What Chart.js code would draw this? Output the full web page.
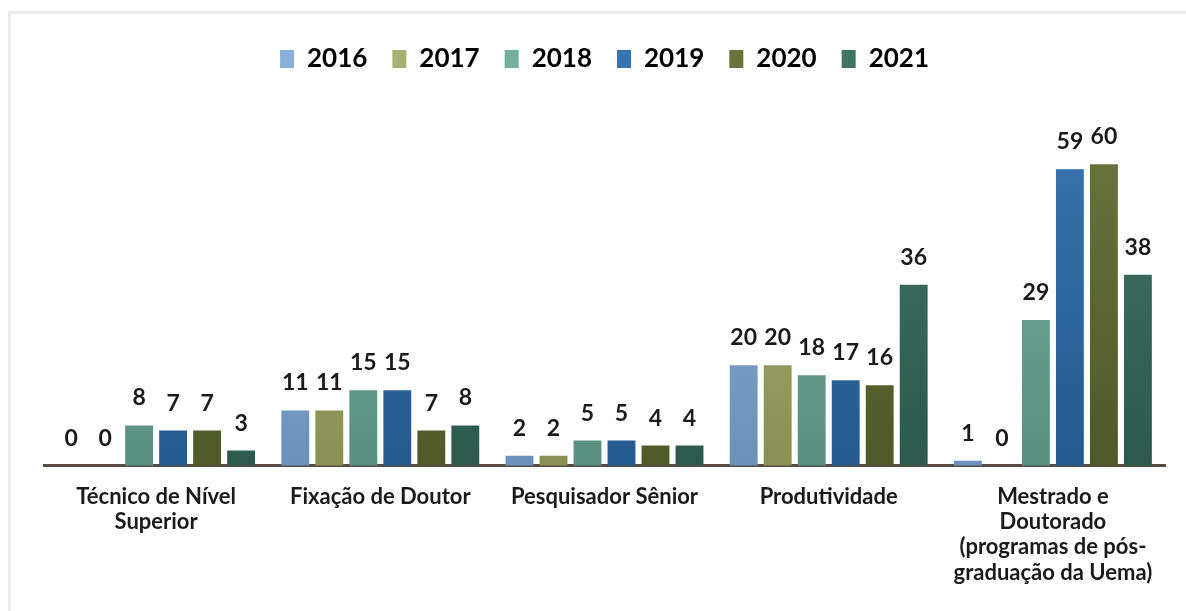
<!DOCTYPE html>
<html>
<head>
<meta charset="utf-8">
<script src="https://cdn.jsdelivr.net/npm/chart.js@4"></script>
<style>
  html, body { margin: 0; padding: 0; background: #fff; }
  #wrap { position: relative; width: 1186px; height: 611px; }
  #frame { position: absolute; left: 8px; top: 11px; right: 0; bottom: 0;
           border-top: 3px solid #ebebeb; border-left: 3px solid #ebebeb; }
  canvas { position: absolute; left: 0; top: 0; }
</style>
</head>
<body>
<div id="wrap">
  <div id="frame"></div>
  <canvas id="chart" width="1186" height="611"></canvas>
</div>
<script>
// categorias e valores por ano
const categories = [
  ['Técnico de Nível', 'Superior'],
  'Fixação de Doutor',
  'Pesquisador Sênior',
  'Produtividade',
  ['Mestrado e', 'Doutorado', '(programas de pós-', 'graduação da Uema)']
];
const years = ['2016', '2017', '2018', '2019', '2020', '2021'];
const v2016 = [0, 11, 2, 20, 1];
const v2017 = [0, 11, 2, 20, 0];
const v2018 = [8, 15, 5, 18, 29];
const v2019 = [7, 15, 5, 17, 59];
const v2020 = [7, 7, 4, 16, 60];
const v2021 = [3, 8, 4, 36, 38];

// cores (topo, base) de cada ano
const colors = [
  ['#88b0d8', '#6a92ba'],
  ['#a8b072', '#899054'],
  ['#74af9f', '#598f80'],
  ['#3773ae', '#245a8e'],
  ['#68743b', '#4f5929'],
  ['#407565', '#2c594c']
];
const series = [v2016, v2017, v2018, v2019, v2020, v2021];

function gradientFor(i) {
  return (ctx) => {
    const { chart } = ctx;
    const area = chart.chartArea;
    if (!area) return colors[i][0];
    const g = chart.ctx.createLinearGradient(0, area.top, 0, area.bottom);
    g.addColorStop(0, colors[i][0]);
    g.addColorStop(1, colors[i][1]);
    return g;
  };
}

// espaço extra abaixo da legenda
const legendSpacer = {
  id: 'legendSpacer',
  beforeInit(chart) {
    const fit = chart.legend.fit;
    chart.legend.fit = function () {
      fit.bind(chart.legend)();
      this.height += 52;
    };
  }
};

// rótulos de valor acima das barras
const valueLabels = {
  id: 'valueLabels',
  afterDatasetsDraw(chart) {
    const c = chart.ctx;
    c.save();
    c.font = 'bold 23px Lato';
    c.fillStyle = '#1a1a1a';
    c.textAlign = 'center';
    c.textBaseline = 'alphabetic';
    chart.data.datasets.forEach((ds, i) => {
      chart.getDatasetMeta(i).data.forEach((bar, j) => {
        c.fillText(ds.data[j], bar.x, bar.y - 20);
      });
    });
    c.restore();
  }
};

new Chart(document.getElementById('chart').getContext('2d'), {
  type: 'bar',
  data: {
    labels: categories,
    datasets: years.map((y, i) => ({
      label: y,
      data: series[i],
      backgroundColor: gradientFor(i),
      borderWidth: 0,
      categoryPercentage: 0.91,
      barPercentage: 0.82
    }))
  },
  options: {
    responsive: false,
    animation: false,
    layout: { padding: { left: 44, right: 21, top: 21, bottom: 15 } },
    plugins: {
      legend: {
        position: 'top',
        labels: {
          boxWidth: 14,
          boxHeight: 18,
          padding: 25,
          color: '#1a1a1a',
          font: { family: 'Lato', size: 26, weight: 'bold' },
          generateLabels(chart) {
            return years.map((y, i) => ({
              text: y,
              fillStyle: colors[i][0],
              strokeStyle: colors[i][0],
              lineWidth: 0,
              datasetIndex: i
            }));
          }
        }
      },
      tooltip: { enabled: false }
    },
    scales: {
      x: {
        grid: { display: false },
        border: { color: '#5a4a44', width: 3 },
        ticks: {
          color: '#1a1a1a',
          padding: 11,
          maxRotation: 0,
          autoSkip: false,
          font: { family: 'Lato', size: 22, weight: 'bold', lineHeight: 1.14 }
        }
      },
      y: {
        display: false,
        min: 0,
        max: 66
      }
    }
  },
  plugins: [legendSpacer, valueLabels]
});
</script>
</body>
</html>
